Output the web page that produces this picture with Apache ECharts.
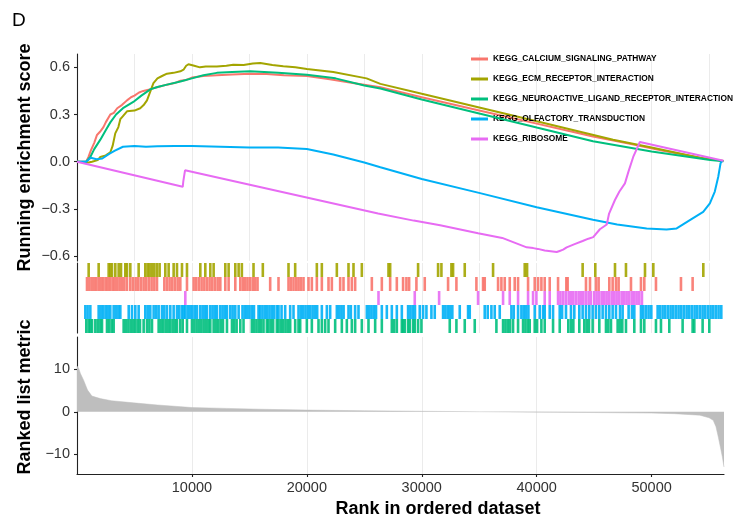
<!DOCTYPE html>
<html>
<head>
<meta charset="utf-8">
<script src="https://cdn.jsdelivr.net/npm/echarts@6/dist/echarts.min.js"></script>
<style>
html,body{margin:0;padding:0;background:#fff;}
#chart{width:733px;height:516px;}
</style>
</head>
<body>
<div id="chart"></div>
<script>
// ---------- data ----------
const setNames = ['KEGG_CALCIUM_SIGNALING_PATHWAY','KEGG_ECM_RECEPTOR_INTERACTION','KEGG_NEUROACTIVE_LIGAND_RECEPTOR_INTERACTION','KEGG_OLFACTORY_TRANSDUCTION','KEGG_RIBOSOME'];
const setColors = ['#F8766D','#A3A500','#00BF7D','#00B0F6','#E76BF3'];

const calciumES = [[0,0],[800,0],[1000,0.03],[1200,0.07],[1500,0.12],[1740,0.17],[2000,0.19],[2300,0.22],[2500,0.25],[2900,0.30],[3200,0.31],[3500,0.34],[3900,0.36],[4350,0.39],[4700,0.41],[5000,0.42],[5400,0.44],[5770,0.45],[6300,0.46],[6800,0.47],[7300,0.48],[7830,0.49],[8500,0.50],[9000,0.515],[9500,0.52],[10000,0.535],[11000,0.545],[12170,0.55],[13500,0.555],[15070,0.56],[16500,0.558],[18000,0.55],[20000,0.545],[22000,0.525],[24000,0.50],[26400,0.473],[30000,0.41],[35000,0.326],[40000,0.242],[44900,0.16],[48000,0.115],[51000,0.07],[54600,0.02],[56250,0.005]];
const ecmES = [[0,0],[1000,-0.005],[1300,0],[1800,0.01],[2030,0.03],[2500,0.04],[2900,0.06],[3100,0.10],[3330,0.18],[3600,0.22],[3770,0.27],[4000,0.29],[4350,0.32],[5000,0.325],[5500,0.34],[5800,0.36],[6090,0.39],[6400,0.45],[6650,0.50],[7000,0.53],[7400,0.545],[7830,0.56],[8400,0.565],[9000,0.575],[9270,0.585],[9500,0.61],[9700,0.62],[10200,0.61],[10700,0.60],[11200,0.605],[12170,0.605],[13000,0.61],[13600,0.617],[14500,0.615],[15300,0.625],[15950,0.628],[17000,0.615],[17950,0.607],[19000,0.60],[20000,0.59],[22300,0.57],[25200,0.53],[26400,0.495],[30000,0.432],[35000,0.345],[40000,0.257],[46650,0.14],[50000,0.09],[54200,0.025],[56250,0.005]];
const neuroES = [[0,0],[800,0],[1160,0.03],[1500,0.08],[2030,0.14],[2500,0.20],[2900,0.25],[3400,0.30],[4000,0.34],[4900,0.38],[5600,0.42],[6380,0.46],[7000,0.475],[7830,0.49],[9000,0.51],[10000,0.53],[11000,0.55],[12170,0.565],[13500,0.57],[15070,0.575],[17500,0.565],[20000,0.553],[22500,0.53],[25000,0.485],[26400,0.465],[30000,0.396],[35000,0.307],[40000,0.217],[44900,0.13],[50000,0.065],[55100,0.01],[56250,0.003]];
const olfactoryES = [[0,0],[800,0],[1200,0.025],[1700,0.015],[2200,0.02],[2800,0.05],[3300,0.07],[4000,0.095],[5000,0.10],[6000,0.095],[7000,0.098],[8500,0.10],[10000,0.10],[12500,0.095],[15000,0.09],[17500,0.09],[20000,0.08],[22300,0.045],[25000,-0.005],[26400,-0.035],[30000,-0.11],[35070,-0.20],[40000,-0.29],[44900,-0.37],[47000,-0.40],[49570,-0.425],[51300,-0.432],[52180,-0.425],[53330,-0.372],[54490,-0.32],[55070,-0.265],[55500,-0.19],[55800,-0.096],[56000,-0.01],[56170,0.006]];
const ribosomeES = [[0,0],[9200,-0.16],[9250,-0.125],[9300,-0.115],[9400,-0.055],[26200,-0.33],[26250,-0.325],[29300,-0.375],[29350,-0.37],[31600,-0.405],[31650,-0.40],[34900,-0.455],[34950,-0.45],[37000,-0.485],[39130,-0.545],[39700,-0.55],[40100,-0.555],[40700,-0.565],[41740,-0.575],[42000,-0.568],[42300,-0.56],[42610,-0.545],[43300,-0.525],[44000,-0.505],[44500,-0.49],[44920,-0.48],[45500,-0.43],[46100,-0.40],[46300,-0.33],[46810,-0.244],[47200,-0.19],[47680,-0.138],[48000,-0.06],[48400,0.03],[48980,0.125],[49130,0.135],[56250,0.006]];

const calciumHits = [870,1075,1275,1480,1680,1885,2090,2290,2495,2695,2900,3105,3305,3510,3710,3915,4120,4350,4640,4870,5105,5335,5570,5800,6030,6265,6495,6730,6960,7600,7830,8060,8295,8525,8760,8990,9570,10150,10380,10615,10845,11080,11310,11540,11775,12005,12240,12470,12905,13195,13775,14210,14430,14635,14840,15070,15300,15505,15710,16810,17535,18405,18610,18840,19070,19275,19480,19710,20145,20435,20870,21305,21885,22175,22900,23190,23625,23915,24205,25655,26525,27250,27830,28375,28665,28900,29535,30260,32290,33015,34755,35335,35480,36640,36930,37220,37655,38090,38380,39250,39830,40120,40410,40700,41135,41860,42580,42695,44290,44640,45160,45390,46320,46610,46900,47130,48205,49075,49365,50380,52555,53570];
const ecmHits = [1015,1885,2755,2900,3045,3335,3625,3830,4205,4350,4640,5365,5945,6150,6320,6525,6730,6960,7190,7685,7975,8410,8700,9135,9570,10730,11165,11600,11890,12905,13195,13775,14065,14345,15360,16170,18405,18985,20870,21305,22610,23625,24060,24785,27105,27250,29680,31420,31710,32580,32725,33740,36205,38960,39165,44000,45100,46815,47770,49425,50150,54500];
const neuroHits = [810,1015,1160,1305,1595,1800,2030,2175,2610,2810,3020,3190,4060,4260,4470,4670,4870,5075,5280,5480,5800,6090,6300,6525,7105,7310,7510,7715,7920,8120,8325,8530,8700,8990,9200,9570,10005,10210,10410,10615,10820,11020,11225,11430,11600,11890,12090,12295,12500,12700,13050,13485,13690,13890,14210,14490,15215,15420,15620,15825,16025,16230,16520,16665,16870,17070,17390,17535,17740,17940,18145,18345,18550,18985,19275,19420,20000,20435,21015,21305,21595,21885,22465,23045,23480,23915,24205,24785,25365,25945,26525,27395,27600,27830,28265,28375,28520,28810,28955,29245,29390,29680,29970,32435,33015,33740,34610,36495,37075,37280,37480,37685,37945,38380,38815,39020,39225,39395,39830,40035,40410,40700,41425,42005,42750,42985,43190,43710,44145,44350,44550,44870,45450,46030,46235,46465,47045,47250,47450,47770,48495,49075,49365,50380,50815,51540,52700,53570,53715,54440,55020];
const olfactoryHits = [725,925,1160,1885,2090,2290,2495,2700,2900,3190,3400,3600,3770,4500,4785,5075,5365,5945,6150,6380,6670,6900,7105,7395,7600,7830,8120,8410,8700,8900,9135,9280,9425,9630,9830,10035,10240,10440,10730,10935,11140,11310,11600,11800,12005,12180,12470,12670,12875,13050,13340,13545,13775,14065,14400,14600,14800,15000,15200,15400,15795,15940,16140,16345,16550,16750,16950,17150,17390,17535,17800,18115,18550,18840,19275,19480,19680,19885,20090,20290,20500,20700,20900,21305,21740,22030,22610,22810,23010,23200,23625,23830,24200,24495,25220,25420,25620,25820,26020,26525,26960,27395,27830,28265,28810,29010,29210,29410,29825,30115,30405,30840,31130,31855,32055,32260,32460,32660,33305,34030,34175,35480,35740,36060,36350,36785,37800,38005,38380,38670,38870,39075,39280,39830,40265,40555,40700,41135,41425,42005,42210,42550,42985,43275,43710,44000,44290,44580,44870,45160,45450,45740,46030,46320,46610,46900,47250,47480,48000,48290,48495,49075,49280,49510,49740,49975,50525,50730,50960,51190,51425,51655,51890,52120,52350,52585,52815,53050,53280,53510,53745,53975,54210,54440,54670,54905,55135,55370,55600,55830,56065];
const ribosomeHits = [9425,26235,29390,31510,34900,37075,37655,38380,39250,39685,39975,40700,41135,41860,42065,42295,42530,42780,42985,43190,43420,43650,43855,44060,44290,44520,44725,45015,45220,45450,45680,45885,46090,46320,46550,46755,46960,47190,47420,47625,47830,48060,48290,48495,48700,48930,49160];

const metricRank  = [0,150,300,575,920,1300,2030,3000,4920,7000,10000,13000,16000,20000,25000,30000,35000,40000,45000,50000,52000,54200,55000,55360,55600,55800,56000,56150,56300];
const metricValue = [10.8,10.2,9,7.45,5.1,3.7,3.1,2.6,2.1,1.6,1.0,0.8,0.6,0.4,0.25,0.12,0.02,-0.08,-0.18,-0.3,-0.45,-0.8,-1.4,-2,-3.5,-5.9,-8.5,-10.5,-13];

const esTicks = [-0.6,-0.3,0,0.3,0.6];
const metricTicks = [-10,0,10];
const rankTicks = [10000,20000,30000,40000,50000];
const rankMax = 56300;

// rug row order top->bottom
const rugOrder = [
  {hits: ecmHits, color: setColors[1]},
  {hits: calciumHits, color: setColors[0]},
  {hits: ribosomeHits, color: setColors[4]},
  {hits: olfactoryHits, color: setColors[3]},
  {hits: neuroHits, color: setColors[2]}
];

// ---------- chart ----------
const FONT = '"Liberation Sans", Arial, Helvetica, sans-serif';
const minus = s => String(s).replace('-', '\u2212');
const grid = '#EBEBEB';
const axisCol = '#222';

const chart = echarts.init(document.getElementById('chart'), null, {renderer:'canvas'});

const xBase = (gi) => ({
  gridIndex: gi, type:'value', min:0, max:rankMax, interval:5000,
  axisLine:{show:false}, axisTick:{show:false}, axisLabel:{show:false},
  splitLine:{show:true, showMaxLine:false, lineStyle:{color:grid, width:1}}
});

const xBottom = xBase(2);
xBottom.axisLine = {show:true, onZero:false, lineStyle:{color:axisCol, width:1.1}};
xBottom.axisTick = {show:true, length:3, customValues:rankTicks, lineStyle:{color:axisCol, width:1.1}};
xBottom.axisLabel = {show:true, customValues:rankTicks, margin:6, fontSize:14.5, color:'#333', fontFamily:FONT,
  formatter: v => String(Math.round(v))};

const series = [];
const esData = [calciumES, ecmES, neuroES, olfactoryES, ribosomeES];
setNames.forEach((n,i) => {
  series.push({
    name:n, type:'line', xAxisIndex:0, yAxisIndex:0, data:esData[i],
    showSymbol:false, symbol:'none', color:setColors[i],
    lineStyle:{width:2, color:setColors[i]}, silent:true, z:2+i
  });
});
rugOrder.forEach((r,i) => {
  series.push({
    name:'rug'+i, type:'scatter', xAxisIndex:1, yAxisIndex:1,
    data: r.hits.map(h => [h, i + 0.5]),
    symbol:'rect', symbolSize:[2.6, 14], itemStyle:{color:r.color, opacity:0.9}, silent:true
  });
});
series.push({
  name:'metric', type:'line', xAxisIndex:2, yAxisIndex:2,
  data: metricRank.map((r,i) => [r, metricValue[i]]),
  showSymbol:false, symbol:'none', lineStyle:{width:0.5, color:'#BEBEBE'},
  areaStyle:{color:'#BEBEBE', opacity:1, origin:0}, silent:true
});

const option = {
  animation:false,
  backgroundColor:'#fff',
  grid:[
    {left:77, top:54, width:647, height:207},
    {left:77, top:263, width:647, height:70},
    {left:77, top:337, width:647, height:137}
  ],
  xAxis:[xBase(0), xBase(1), xBottom],
  yAxis:[
    {gridIndex:0, type:'value', min:-0.632, max:0.685,
     axisLine:{show:true, onZero:false, lineStyle:{color:axisCol, width:1.1}},
     axisTick:{show:true, length:3, customValues:esTicks, lineStyle:{color:axisCol, width:1.1}},
     axisLabel:{customValues:esTicks, margin:7, fontSize:14.5, color:'#333', fontFamily:FONT,
       formatter: v => minus(Number(v).toFixed(1))},
     splitLine:{show:false}},
    {gridIndex:1, type:'value', min:0, max:5, inverse:true,
     axisLine:{show:true, onZero:false, lineStyle:{color:axisCol, width:1.1}},
     axisTick:{show:false}, axisLabel:{show:false}, splitLine:{show:false}},
    {gridIndex:2, type:'value', min:-14.64, max:17.6,
     axisLine:{show:true, onZero:false, lineStyle:{color:axisCol, width:1.1}},
     axisTick:{show:true, length:3, customValues:metricTicks, lineStyle:{color:axisCol, width:1.1}},
     axisLabel:{customValues:metricTicks, margin:7, fontSize:14.5, color:'#333', fontFamily:FONT,
       formatter: v => minus(v)},
     splitLine:{show:false}}
  ],
  legend:{
    data:setNames, orient:'vertical', left:471, top:54, padding:0, itemGap:10,
    itemWidth:17, itemHeight:3, icon:'rect', selectedMode:false,
    textStyle:{fontSize:8.4, fontWeight:'bold', color:'#000', fontFamily:FONT, lineHeight:10}
  },
  graphic:[
    {type:'text', x:12, y:11, style:{text:'D', font:'19px ' + FONT, fill:'#000', verticalAlign:'top', align:'left'}},
    {type:'text', x:25, y:157.5, rotation:Math.PI/2, style:{text:'Running enrichment score', font:'bold 18px ' + FONT, fill:'#000', align:'center', verticalAlign:'middle'}},
    {type:'text', x:25, y:397, rotation:Math.PI/2, style:{text:'Ranked list metric', font:'bold 18px ' + FONT, fill:'#000', align:'center', verticalAlign:'middle'}},
    {type:'text', x:438, y:509, style:{text:'Rank in ordered dataset', font:'bold 18px ' + FONT, fill:'#000', align:'center', verticalAlign:'middle'}}
  ],
  series: series
};
chart.setOption(option);
</script>
</body>
</html>
